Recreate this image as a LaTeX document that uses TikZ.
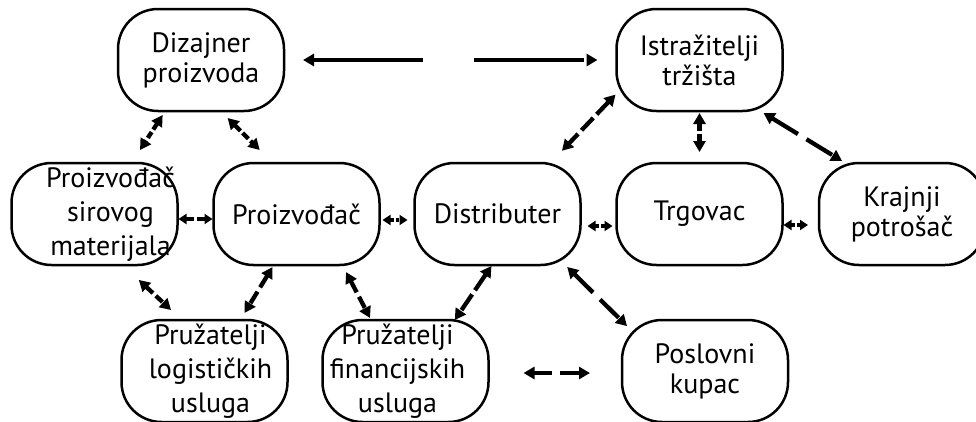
\documentclass[tikz,border=0pt]{standalone}
\usepackage{fontspec}
\setmainfont{PT Sans}
\usetikzlibrary{arrows.meta}

\begin{document}
\begin{tikzpicture}[x=1pt, y=-1pt,
    box/.style = {shape=rectangle, rounded corners=40pt, draw,
      line width=2.5pt, align=center, inner sep=0pt, outer sep=0pt,
      minimum width=166pt, minimum height=102pt, text width=166pt,
      font=\fontsize{28}{30}\selectfont},
    tall/.style = {font=\fontsize{28}{34}\selectfont},
    nudge/.style = {execute at begin node={\advance\leftskip by #1\relax}},
    nudge left/.style = {execute at begin node={\advance\rightskip by #1\relax}},
    link/.style = {line width=4.3pt, dash pattern=#1,
      {Triangle[length=11pt,width=12pt]}-{Triangle[length=11pt,width=12pt]}},
    small link/.style = {line width=3.6pt, dash pattern=#1,
      {Triangle[length=8pt,width=10pt]}-{Triangle[length=8pt,width=10pt]}}]
    \useasboundingbox (0,0) rectangle (976,421);
    \clip (0,0) rectangle (976,421);

    % top row
    \node[box] (diz) at (201,60) {Dizajner\\ proizvoda};
    \node[box] (istr) at (699.5,60) {Istražitelji\\ tržišta};
    % middle row
    \node[box, tall, nudge=32pt] (sirov) at (94.5,214) {Proizvođač\\ sirovog\\ materijala};
    \node[box] (proizv) at (296.5,214) {Proizvođač};
    \node[box] (distr) at (497.5,214) {Distributer};
    \node[box] (trg) at (699.5,214) {Trgovac};
    \node[box] (krajnji) at (902,214) {Krajnji\\ potrošač};
    % bottom row
    \node[box, tall, nudge=12pt] (logist) at (204.5,371) {Pružatelji\\ logističkih\\ usluga};
    \node[box, tall, nudge left=16pt] (financ) at (405.5,371) {Pružatelji\\ financijskih\\ usluga};
    \node[box] (poslovni) at (705,371) {Poslovni\\ kupac};

    \draw[link={on 110pt off 51pt}, shorten <=19pt, shorten >=19pt] (diz.east) -- (istr.west);
    \draw[link={on 7pt off 3pt}, shorten <=4.8pt, shorten >=15.5pt] (diz.-125.5) -- (sirov.54.8);
    \draw[link={on 8pt off 3pt}, shorten <=9.9pt, shorten >=18.4pt] (diz.-69.6) -- (proizv.115.7);
    \draw[small link={on 8pt off 2.5pt}, shorten <=1pt, shorten >=1pt] ([yshift=-5pt]sirov.east) -- ([yshift=-5pt]proizv.west);
    \draw[small link={on 3.5pt off 2pt}, shorten <=3pt, shorten >=7pt] ([yshift=-6pt]proizv.east) -- ([yshift=-6pt]distr.west);
    \draw[small link={on 4pt off 2pt}, shorten <=7pt, shorten >=4pt] ([yshift=-12pt]distr.east) -- ([yshift=-12pt]trg.west);
    \draw[small link={on 3.5pt off 2pt}, shorten <=1pt, shorten >=11pt] ([yshift=-11pt]trg.east) -- ([yshift=-11pt]krajnji.west);
    \draw[link={on 17pt off 5pt}, shorten <=1.4pt, shorten >=16.8pt] (istr.202.4) -- (distr.44.6);
    \draw[link={on 8pt off 3pt}, shorten <=2pt, shorten >=11pt] (istr.south) -- (trg.north);
    \draw[link={on 30pt off 10pt}, shorten <=3.8pt, shorten >=3.8pt] (istr.-40.2) -- (krajnji.138.6);
    \draw[link={on 9pt off 4pt}, shorten <=21.9pt, shorten >=14.6pt] (sirov.-61.7) -- (logist.114.6);
    \draw[link={on 13.5pt off 5pt}, shorten <=2.4pt, shorten >=8.3pt] (proizv.-114.5) -- (logist.55.8);
    \draw[link={on 12.5pt off 5pt}, shorten <=8pt, shorten >=2.3pt] (proizv.-48.8) -- (financ.124);
    \draw[link={on 19pt off 5pt}, shorten <=1.2pt, shorten >=0pt] (distr.-96.5) -- (financ.46.4);
    \draw[link={on 26pt off 10pt}, shorten <=2.8pt, shorten >=-7.1pt] (distr.-37.1) -- (poslovni.149.4);
    \draw[link={on 18.5pt off 8pt}, shorten <=35pt, shorten >=32pt] ([yshift=-2pt]financ.east) -- ([yshift=-2pt]poslovni.west);
\end{tikzpicture}
\end{document}
